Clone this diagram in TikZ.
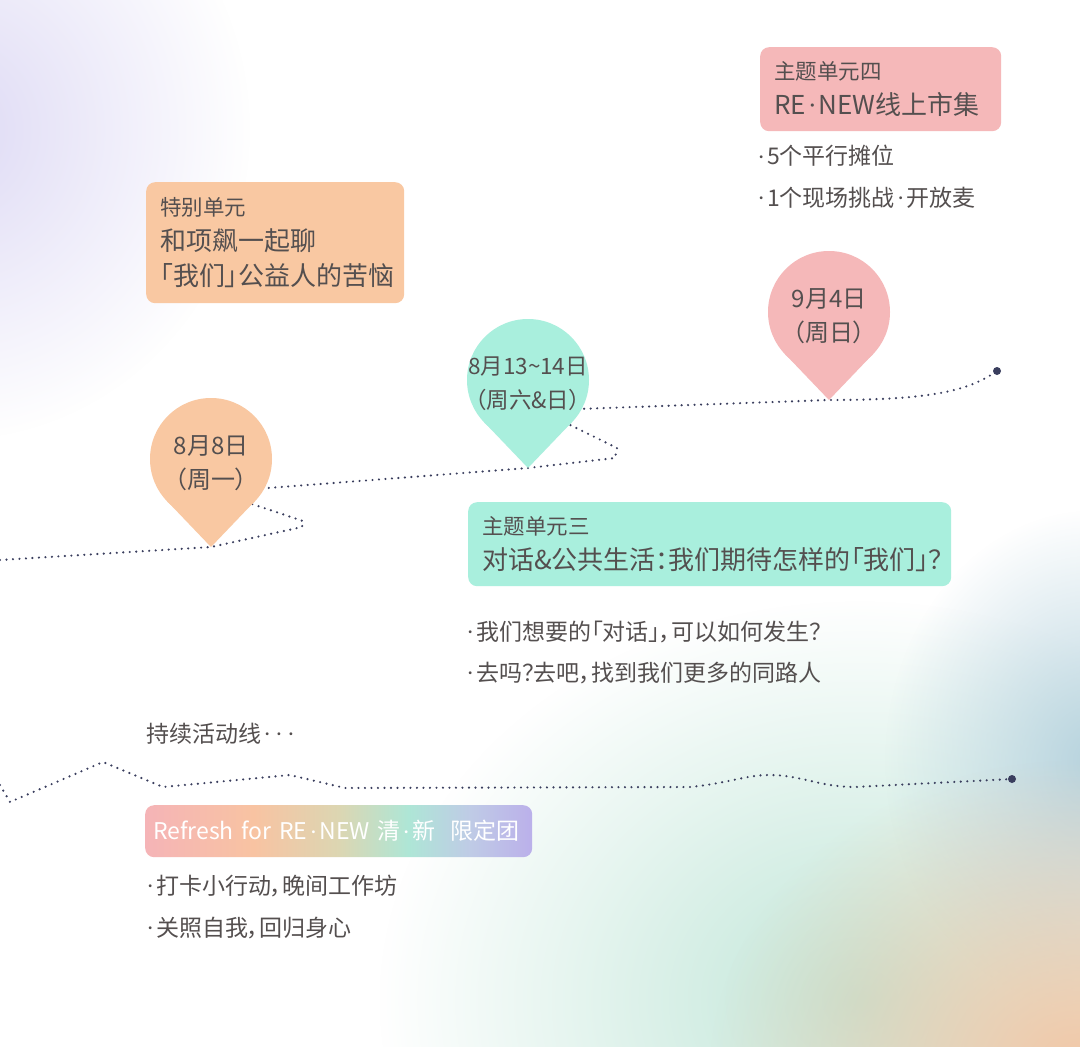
\documentclass[tikz,border=0pt]{standalone}
\usepackage{fontspec}
\usepackage{graphicx}
\setmainfont{Noto Sans CJK SC}[RawFeature=+palt]
\usetikzlibrary{positioning,fadings}
\definecolor{pinkbox}{HTML}{F5B8B9}
\definecolor{peachbox}{HTML}{F9C8A2}
\definecolor{mintbox}{HTML}{A9EFDD}
\definecolor{textgray}{HTML}{544F4F}
\definecolor{linenavy}{HTML}{3A3E5E}
\definecolor{lavglow}{HTML}{DEDAF5}
\definecolor{mintglow}{HTML}{C0E6D8}
\definecolor{blueglow}{HTML}{B7D3DE}
\definecolor{peachglow}{HTML}{F2C7A6}
\definecolor{rfpink}{HTML}{F5B4B7}
\definecolor{rfpeach}{HTML}{F8C3A2}
\definecolor{rfbeige}{HTML}{DCD6B2}
\definecolor{rfmint}{HTML}{AEE6D6}
\definecolor{rfblue}{HTML}{BFCBE6}
\definecolor{rflav}{HTML}{BBB0EA}
\tikzfading[name=softdisc, inner color=transparent!0, outer color=transparent!100]
\pgfdeclarehorizontalshading{renewfade}{100bp}{color(0bp)=(rfpink); color(25bp)=(rfpink);
  color(39bp)=(rfpeach); color(50bp)=(rfbeige); color(59bp)=(rfmint); color(67bp)=(rfblue);
  color(75bp)=(rflav); color(100bp)=(rflav)}
% 小圆点
\newcommand{\mdot}{\kern2.5pt\raisebox{0.12em}{\scalebox{0.6}{·}}\kern2.5pt}

\begin{document}
\begin{tikzpicture}[x=1pt,y=-1pt,
  every node/.style={text=textgray, inner sep=0pt},
  unitbox/.style={rounded corners=9pt, anchor=north west, align=left, inner xsep=14pt,
    font=\fontsize{26}{35}\selectfont},
  bullet/.style={anchor=west, font=\fontsize{23}{28}\selectfont},
  pintext/.style={align=center, font=\fontsize{24}{35}\selectfont},
  dotline/.style={linenavy, line width=2.4pt, line cap=round, dash pattern=on 0pt off 6.5pt},
  enddot/.style={circle, fill=linenavy, minimum size=8pt}]
  \useasboundingbox (0,0) rectangle (1080,1047);
  % 背景
  \fill[white] (0,0) rectangle (1080,1047);
  \begin{scope}
    \clip (0,0) rectangle (1080,1047);
    \fill[lavglow, path fading=softdisc] (-50,130) ellipse[x radius=300pt, y radius=310pt];
    \fill[mintglow, path fading=softdisc] (860,1000) ellipse[x radius=480pt, y radius=400pt];
    \fill[blueglow, path fading=softdisc] (1095,760) ellipse[x radius=210pt, y radius=250pt];
    \fill[peachglow, path fading=softdisc] (1080,1070) ellipse[x radius=370pt, y radius=310pt];
  \end{scope}
  % 时间线
  \node[enddot] (end1) at (997,371) {};
  \node[enddot] (end2) at (1012,779) {};
  \coordinate (tip1) at (211,547);
  \coordinate (tip2) at (528,468);
  \coordinate (tip3) at (829,400);
  \draw[dotline] (0,560) -- (tip1) -- (302,527) -- (303,521) -- (240,500) -- (255,489)
    -- (tip2) -- (615,458) -- (617,448) -- (560,420) -- (578,409)
    -- (tip3) .. controls (925,400) and (965,392) .. (end1);
  \draw[dotline] (0,785) -- (10,802) -- (103,762) -- (163,787) -- (290,775) -- (345,788)
    -- (690,787) .. controls (730,783) and (745,775) .. (770,775)
    .. controls (800,775) and (820,787) .. (855,787) -- (end2);
  % 日期
  \foreach \i/\cx/\cy/\col/\fs/\txt in {1/211/459/peachbox/24/{8月8日\\（周一）},
      2/528/380/mintbox/22.5/{8月13\textasciitilde14日\\（周六\&日）},
      3/829/312/pinkbox/24/{9月4日\\（周日）}}{
    \fill[\col] (\cx,\cy) circle[radius=61pt];
    \fill[\col] (\cx-44,\cy+42) -- (\cx,\cy+88) -- (\cx+44,\cy+42) -- cycle;
    \node[pintext, font=\fontsize{\fs}{34}\selectfont] (pin\i) at (\cx,\cy+4) {\txt};
  }
  % 单元
  \node[unitbox, fill=pinkbox, minimum width=241pt, minimum height=84pt, text width=213pt]
    (unit4) at (760,47) {{\fontsize{21.5}{35}\selectfont 主题单元四}\\RE\mdot NEW线上市集};
  \node[unitbox, fill=peachbox, minimum width=258pt, minimum height=121pt, text width=230pt]
    (special) at (146,182) {{\fontsize{21.5}{35}\selectfont 特别单元}\\和项飙一起聊\\「我们」公益人的苦恼};
  \node[unitbox, fill=mintbox, minimum width=483pt, minimum height=84pt, text width=455pt]
    (unit3) at (468,502) {{\fontsize{21.5}{35}\selectfont 主题单元三}\\对话\&公共生活：我们期待怎样的「我们」？};
  \node[unitbox, shading=renewfade, inner xsep=8pt, minimum width=387pt, minimum height=52pt,
    text width=371pt, text=white, font=\fontsize{23}{28}\selectfont]
    (refresh) at (145,805) {Refresh for RE\mdot NEW 清\mdot 新\ \ 限定团};
  % 说明
  \node[bullet] (u4a) at (755,156) {\mdot 5个平行摊位};
  \node[bullet] (u4b) at (755,198) {\mdot 1个现场挑战\mdot 开放麦};
  \node[bullet] (u3a) at (464,632) {\mdot 我们想要的「对话」，可以如何发生？};
  \node[bullet] (u3b) at (464,673) {\mdot 去吗？去吧，找到我们更多的同路人};
  \node[bullet] (ongoing) at (146,734) {持续活动线\mdot\mdot\mdot};
  \node[bullet] (rfa) at (144,886) {\mdot 打卡小行动，晚间工作坊};
  \node[bullet] (rfb) at (144,928) {\mdot 关照自我，回归身心};
\end{tikzpicture}
\end{document}
